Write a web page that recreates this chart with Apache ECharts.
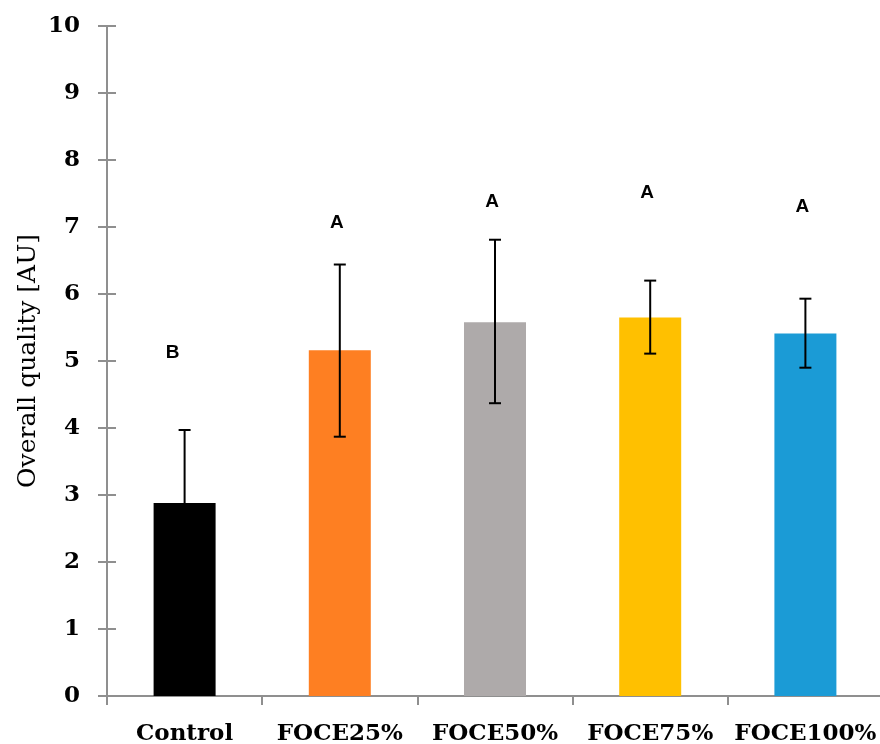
<!DOCTYPE html>
<html>
<head>
<meta charset="utf-8">
<script src="https://cdn.jsdelivr.net/npm/echarts@6/dist/echarts.min.js"></script>
<style>
  html, body { margin: 0; padding: 0; background: #fff; }
  #chart { width: 880px; height: 744px; }
</style>
</head>
<body>
<div id="chart"></div>
<script>
// values
const categories = ['Control', 'FOCE25%', 'FOCE50%', 'FOCE75%', 'FOCE100%']
const meanValues = [2.88, 5.16, 5.58, 5.65, 5.41]
const errLow = [1.79, 3.87, 4.37, 5.11, 4.90]
const errHigh = [3.97, 6.44, 6.81, 6.20, 5.93]
const letters = ['B', 'A', 'A', 'A', 'A']
const letterY = [5.13, 7.07, 7.38, 7.51, 7.30]
const barColors = ['#000000', '#fe7f22', '#aeaaaa', '#ffc000', '#1b9bd6']

const axisGrey = '#8f8f8f'
const serif = 'DejaVu Serif'

const chart = echarts.init(document.getElementById('chart'))

const letterLabel = {
  show: true,
  position: 'inside',
  color: '#000',
  opacity: 1,
  textBorderWidth: 0,
  fontFamily: 'Liberation Sans',
  fontWeight: 'bold',
  fontSize: 19
}

const option = {
  animation: false,
  grid: { left: 107, right: -3, top: 26, bottom: 48, containLabel: false, outerBoundsMode: 'none' },
  xAxis: {
    type: 'category',
    data: categories,
    axisLine: { lineStyle: { color: axisGrey, width: 2 } },
    axisTick: { show: true, length: 9, lineStyle: { color: axisGrey, width: 2 } },
    axisLabel: {
      interval: 0,
      hideOverlap: false,
      margin: 27,
      color: '#000',
      fontFamily: serif,
      fontWeight: 'bold',
      fontSize: 23
    }
  },
  yAxis: [
    {
      type: 'value',
      min: 0,
      max: 10,
      interval: 1,
      name: 'Overall quality [AU]',
      nameLocation: 'middle',
      nameGap: 66,
      nameMoveOverlap: false,
      nameTextStyle: { color: '#000', fontFamily: serif, fontSize: 25 },
      splitLine: { show: false },
      axisLine: { show: true, lineStyle: { color: axisGrey, width: 2 } },
      axisTick: { show: true, length: 9, lineStyle: { color: axisGrey, width: 2 } },
      axisLabel: {
        margin: 27,
        color: '#000',
        fontFamily: serif,
        fontWeight: 'bold',
        fontSize: 23
      }
    },
    {
      // inner half of the crossing ticks
      type: 'value',
      min: 0,
      max: 10,
      interval: 1,
      position: 'left',
      splitLine: { show: false },
      axisLine: { show: false },
      axisTick: { show: true, inside: true, length: 9, lineStyle: { color: axisGrey, width: 2 } },
      axisLabel: { show: false }
    }
  ],
  series: [
    {
      type: 'bar',
      barWidth: 62,
      data: meanValues.map((v, i) => ({ value: v, itemStyle: { color: barColors[i] } }))
    },
    {
      type: 'custom',
      z: 5,
      data: categories.map((c, i) => [i, errLow[i], errHigh[i]]),
      renderItem: (params, api) => {
        const lo = api.coord([api.value(0), api.value(1)])
        const hi = api.coord([api.value(0), api.value(2)])
        const cap = 6
        const style = { stroke: '#000', lineWidth: 2 }
        return {
          type: 'group',
          children: [
            { type: 'line', shape: { x1: hi[0], y1: hi[1], x2: lo[0], y2: lo[1] }, style },
            { type: 'line', shape: { x1: hi[0] - cap, y1: hi[1], x2: hi[0] + cap, y2: hi[1] }, style },
            { type: 'line', shape: { x1: lo[0] - cap, y1: lo[1], x2: lo[0] + cap, y2: lo[1] }, style }
          ]
        }
      }
    },
    {
      type: 'scatter',
      symbolSize: 1,
      itemStyle: { opacity: 1, color: 'rgba(0,0,0,0)' },
      data: letters.map((t, i) => ({
        value: [i, letterY[i]],
        label: Object.assign({}, letterLabel, { formatter: t, offset: i === 0 ? [-12, 0] : [-3, 0] })
      })),
      label: letterLabel
    }
  ]
}

chart.setOption(option)
</script>
</body>
</html>
